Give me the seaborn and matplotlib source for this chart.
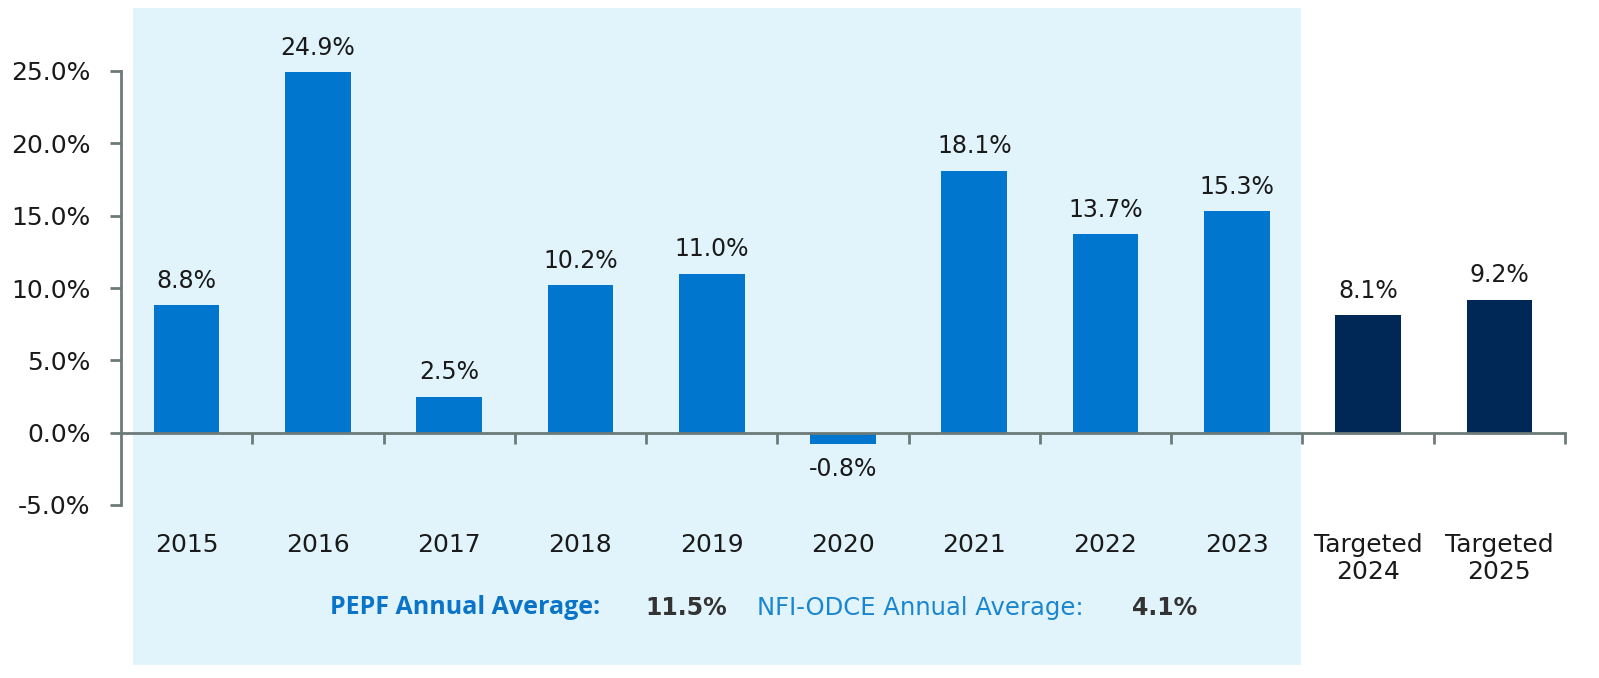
import numpy as np
import seaborn as sns
import matplotlib.pyplot as plt
import pandas as pd
from matplotlib.patches import Rectangle

years = ['2015', '2016', '2017', '2018', '2019', '2020', '2021', '2022', '2023',
         'Targeted\n2024', 'Targeted\n2025']
returns = [8.8, 24.9, 2.5, 10.2, 11.0, -0.8, 18.1, 13.7, 15.3, 8.1, 9.2]
kind = ['actual'] * 9 + ['target'] * 2
pepf_avg = '11.5%'
odce_avg = '4.1%'

df = pd.DataFrame({'year': years, 'ret': returns, 'kind': kind})

sns.set_style('white')
plt.rcParams['font.family'] = ['DejaVu Sans']

fig = plt.figure(figsize=(15.99, 6.78), dpi=100)
ax = fig.add_axes([121 / 1599, 1 - 505 / 678, (1565 - 121) / 1599, (505 - 71) / 678])
ax.patch.set_alpha(0)

# shaded backdrop behind the historical years
fig.patches.append(Rectangle((133 / 1599, 1 - 665 / 678), (1301 - 133) / 1599, (665 - 8) / 678,
                             transform=fig.transFigure, facecolor='#e1f4fc', edgecolor='none', zorder=-1))

sns.barplot(data=df, x='year', y='ret', hue='kind', palette={'actual': '#0076ce', 'target': '#002856'},
            width=0.5, dodge=False, legend=False, ax=ax, saturation=1, linewidth=0)

for c in ax.containers:
    ax.bar_label(c, labels=[f'{v:.1f}%' for v in c.datavalues], padding=9, fontsize=17, color='#1a1a1a')

ax.set_ylim(-5, 25)
ax.set_xlim(-0.5, 10.5)
ax.set_yticks(np.arange(-5, 26, 5))
ax.set_yticklabels([f'{v:.1f}%' for v in np.arange(-5, 26, 5)])
ax.set_xticks(range(len(years)))
ax.set_xticklabels(years, linespacing=1.15)
ax.set_xticks(np.arange(0.5, 11, 1), minor=True)
ax.tick_params(axis='x', which='major', bottom=True, length=0, pad=72, labelsize=18, labelcolor='#1a1a1a')
ax.tick_params(axis='x', which='minor', bottom=True, length=8, width=2, color='#6d7b78', direction='out')
ax.tick_params(axis='y', left=True, length=8, width=2, color='#6d7b78', pad=14, labelsize=18,
               labelcolor='#1a1a1a')
ax.set_xlabel('')
ax.set_ylabel('')

for s in ['top', 'right']:
    ax.spines[s].set_visible(False)
ax.spines['bottom'].set_position(('data', 0))
ax.spines['bottom'].set_bounds(-0.5, 10.5)
for s in ['left', 'bottom']:
    ax.spines[s].set_color('#6d7b78')
    ax.spines[s].set_linewidth(2)

ty = 1 - 608 / 678
fig.text(330 / 1599, ty, 'PEPF Annual Average:', color='#0a74c9', fontweight='bold', fontsize=18,
         va='center', family=['Open Sans', 'DejaVu Sans'])
fig.text(645 / 1599, ty, pepf_avg, color='#333333', fontweight='bold', fontsize=17, va='center')
fig.text(757 / 1599, ty, 'NFI-ODCE Annual Average:', color='#1a86d0', fontsize=17.5, va='center')
fig.text(1132 / 1599, ty, odce_avg, color='#333333', fontweight='bold', fontsize=17, va='center')

fig.savefig('out.png', dpi=100)
